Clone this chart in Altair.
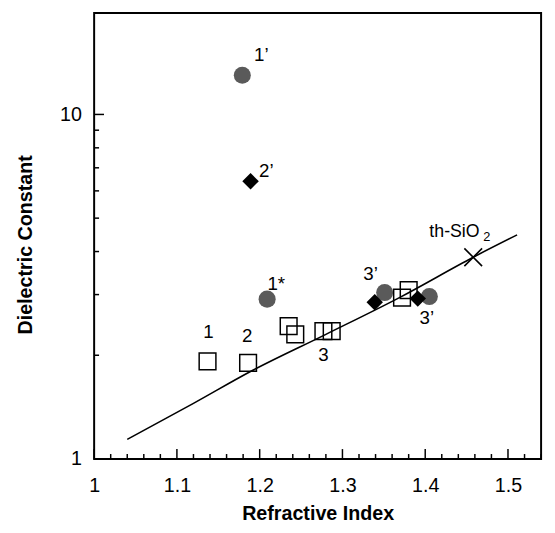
import altair as alt
import pandas as pd

# ---------------- data ----------------
sq_n = [1.137, 1.186, 1.235, 1.243, 1.277, 1.287, 1.372, 1.380]
sq_k = [1.92, 1.90, 2.43, 2.30, 2.35, 2.35, 2.94, 3.09]

ci_n = [1.179, 1.209, 1.351, 1.405]
ci_k = [13.0, 2.91, 3.04, 2.96]

di_n = [1.189, 1.339, 1.391]
di_k = [6.4, 2.85, 2.92]

x_n = [1.458]
x_k = [3.85]

line_n = [1.04, 1.12, 1.19, 1.28, 1.37, 1.458, 1.511]
line_k = [1.14, 1.45, 1.80, 2.30, 2.95, 3.85, 4.47]

lab_text = ["1\u2019", "2\u2019", "1*", "1", "2", "3", "3\u2019", "3\u2019"]
lab_n = [1.202, 1.208, 1.220, 1.138, 1.185, 1.277, 1.334, 1.402]
lab_k = [14.9, 6.85, 3.22, 2.33, 2.27, 2.0, 3.44, 2.56]

sio_text = ["th-SiO"]
sio_n = [1.405]
sio_k = [4.40]
sub_text = ["2"]
sub_n = [1.470]
sub_k = [4.28]

x_major = [1.0, 1.1, 1.2, 1.3, 1.4, 1.5]
x_minor = [1.02, 1.04, 1.06, 1.08, 1.12, 1.14, 1.16, 1.18, 1.22, 1.24, 1.26, 1.28,
           1.32, 1.34, 1.36, 1.38, 1.42, 1.44, 1.46, 1.48, 1.52, 1.54]
y_major = [1, 10]
y_minor = [2, 3, 4, 5, 6, 7, 8, 9]

# ---------------- chart ----------------
F = "Liberation Sans"
W, H = 454, 453
xs = alt.Scale(domain=[1.0, 1.54], nice=False, zero=False)
ys = alt.Scale(type="log", domain=[1, 19.7], nice=False)

x_axis = alt.Axis(values=x_major, format="~g", title="Refractive Index", grid=False,
                  domain=False, ticks=False, tickSize=0, labelPadding=17,
                  labelFont=F, labelFontSize=20, labelColor="black",
                  labelFlush=False, labelOverlap=False,
                  titleFont=F, titleFontSize=20, titleFontWeight="bold", titleColor="black",
                  titleX=W / 2, titleY=61, titleBaseline="alphabetic", titleAlign="center")
y_axis = alt.Axis(values=y_major, format="~g", title="Dielectric Constant", grid=False,
                  domain=False, ticks=False, tickSize=0, labelPadding=13,
                  labelFont=F, labelFontSize=20, labelColor="black",
                  labelFlush=False, labelOverlap=False, labelBaseline="middle",
                  titleFont=F, titleFontSize=20, titleFontWeight="bold", titleColor="black",
                  titleX=-60, titleY=235, titleAngle=270, titleBaseline="bottom",
                  titleAlign="center")

X = alt.X("n:Q", scale=xs, axis=x_axis)
Y = alt.Y("k:Q", scale=ys, axis=y_axis)

def pts(n, k):
    return pd.DataFrame({"n": n, "k": k})

line = alt.Chart(pts(line_n, line_k)).mark_line(
    color="black", strokeWidth=1.6, interpolate="monotone").encode(x=X, y=Y)

circles = alt.Chart(pts(ci_n, ci_k)).mark_point(
    shape="circle", filled=True, size=300, color="#5a5a5a", opacity=1).encode(x=X, y=Y)
squares = alt.Chart(pts(sq_n, sq_k)).mark_point(
    shape="square", filled=False, size=289, color="black", strokeWidth=1.5, opacity=1).encode(x=X, y=Y)
diamonds = alt.Chart(pts(di_n, di_k)).mark_point(
    shape="diamond", filled=True, size=280, color="black", opacity=1).encode(x=X, y=Y)
xmark = alt.Chart(pts(x_n, x_k)).mark_point(
    shape="M-1,-1L1,1M-1,1L1,-1", filled=False, size=324, color="black",
    strokeWidth=1.6, opacity=1).encode(x=X, y=Y)

lab_df = pd.DataFrame({"n": lab_n, "k": lab_k, "t": lab_text})
labels = alt.Chart(lab_df).mark_text(font=F, fontSize=19, align="center", baseline="middle",
                                     color="black").encode(x=X, y=Y, text="t:N")
sio = alt.Chart(pd.DataFrame({"n": sio_n, "k": sio_k, "t": sio_text})).mark_text(
    font=F, fontSize=18, align="left", baseline="alphabetic", color="black").encode(x=X, y=Y, text="t:N")
sub = alt.Chart(pd.DataFrame({"n": sub_n, "k": sub_k, "t": sub_text})).mark_text(
    font=F, fontSize=13, align="left", baseline="alphabetic", color="black").encode(x=X, y=Y, text="t:N")

# tick marks drawn inward
XV = alt.X("v:Q", scale=xs, axis=x_axis)
YV = alt.Y("v:Q", scale=ys, axis=y_axis)
xt_major = alt.Chart(pd.DataFrame({"v": x_major})).mark_rule(color="black", strokeWidth=1.5).encode(
    x=XV, y=alt.value(H), y2=alt.value(H - 10))
xt_minor = alt.Chart(pd.DataFrame({"v": x_minor})).mark_rule(color="black", strokeWidth=1.5).encode(
    x=XV, y=alt.value(H), y2=alt.value(H - 5))
yt_major = alt.Chart(pd.DataFrame({"v": y_major})).mark_rule(color="black", strokeWidth=1.5).encode(
    y=YV, x=alt.value(0), x2=alt.value(10))
yt_minor = alt.Chart(pd.DataFrame({"v": y_minor})).mark_rule(color="black", strokeWidth=1.5).encode(
    y=YV, x=alt.value(0), x2=alt.value(5))

chart = alt.layer(
    line, xt_major, xt_minor, yt_major, yt_minor,
    circles, squares, diamonds, xmark, labels, sio, sub
).properties(
    width=W, height=H,
    autosize=alt.AutoSizeParams(type="none"),
    padding={"left": 87.5, "top": 1, "right": 6, "bottom": 62},
).configure_view(stroke="black", strokeWidth=2)

chart.save("out.html", embed_options={"renderer": "svg", "actions": False})
